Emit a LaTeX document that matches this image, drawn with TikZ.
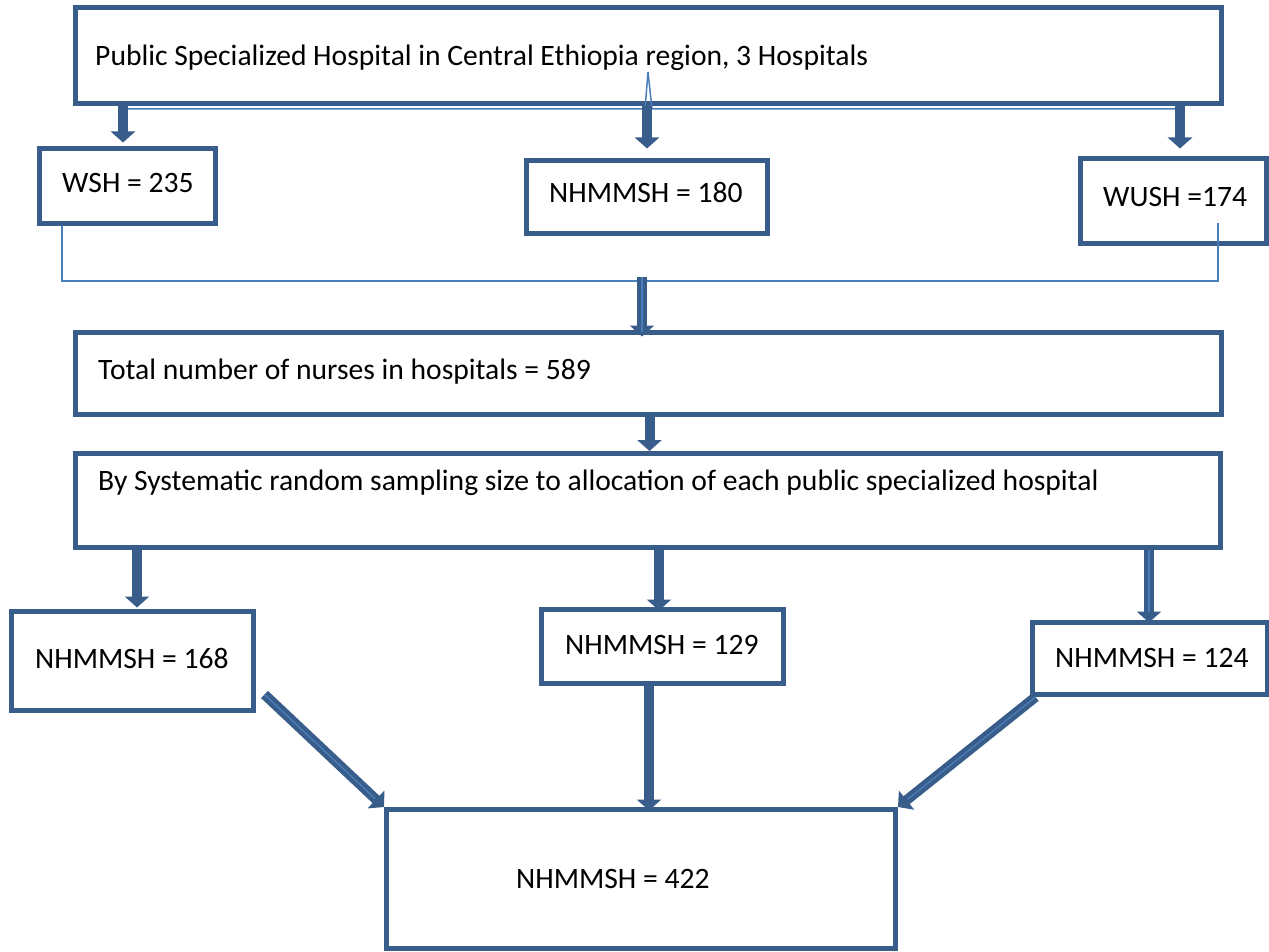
\documentclass[tikz,border=0pt]{standalone}
\usepackage{fontspec}
\setmainfont{Carlito}
\usetikzlibrary{arrows.meta}
\definecolor{dkb}{HTML}{385D8A}
\definecolor{ltb}{HTML}{4A7EBB}
\tikzset{
  box/.style={draw=dkb, line width=5pt, rectangle, inner sep=0pt, fill=none},
  txt/.style={anchor=base west, inner sep=0pt, font=\fontsize{29.6}{34}\selectfont},
  arr/.style={draw=dkb, line width=10pt, -{Triangle[length=11pt,width=24pt]}},
  thinln/.style={draw=ltb, line width=1.5pt},
  dbl/.style={postaction={draw=ltb, line width=1.3pt, -, shorten >=#1}}
}
\begin{document}
\begin{tikzpicture}[x=1pt,y=-1pt]
\useasboundingbox (0,0) rectangle (1269,952);
\fill[white] (0,0) rectangle (1269,952);
% boxes
\node[box, minimum width=1146pt, minimum height=96pt] (top) at (648.5,55.5) {};
\node[box, minimum width=176pt, minimum height=75pt] (wsh) at (127.5,186) {};
\node[box, minimum width=241pt, minimum height=73pt] (nh180) at (647,197) {};
\node[box, minimum width=186pt, minimum height=85pt] (wush) at (1173.5,201) {};
\node[box, minimum width=1146pt, minimum height=82pt] (total) at (648.5,373.5) {};
\node[box, minimum width=1145pt, minimum height=94pt] (sys) at (648,500.5) {};
\node[box, minimum width=242pt, minimum height=99pt] (n168) at (132.5,661) {};
\node[box, minimum width=242pt, minimum height=74pt] (n129) at (662.5,646.5) {};
\node[box, minimum width=234.5pt, minimum height=72pt] (n124) at (1149.75,658.5) {};
\node[box, minimum width=509pt, minimum height=139pt] (n422) at (641,879) {};
% texts
\node[txt] (ttop) at (95,66) {Public Specialized Hospital in Central Ethiopia region, 3 Hospitals};
\node[txt] (twsh) at (62,193) {WSH = 235};
\node[txt] (tnh180) at (549,203) {NHMMSH = 180};
\node[txt] (twush) at (1103,207) {WUSH =174};
\node[txt] (ttotal) at (98,379) {Total number of nurses in hospitals = 589};
\node[txt] (tsys) at (98,490) {By Systematic random sampling size to allocation of each public specialized hospital};
\node[txt] (t168) at (35,668) {NHMMSH = 168};
\node[txt] (t129) at (565,654) {NHMMSH = 129};
\node[txt] (t124) at (1055,667) {NHMMSH = 124};
\node[txt] (t422) at (516,888) {NHMMSH = 422};
% reference x positions
\coordinate (xa) at (123,0);
\coordinate (xb) at (647,0);
\coordinate (xc) at (1180,0);
\coordinate (xd) at (649.5,0);
\coordinate (xe) at (137,0);
\coordinate (xf) at (659,0);
\coordinate (xg) at (1149,0);
\coordinate (xh) at (649,0);
% thin connectors
\coordinate (tl) at (128,109);
\coordinate (tr) at (1175,109);
\draw[thinln] (tl) -- (645,109) -- (648,72) -- (652,109) -- (tr);
\coordinate (ca) at (62,281);
\coordinate (cb) at (1218,281);
\coordinate (cc) at (1218,223);
\draw[thinln] (wsh.south -| ca) -- (ca) -- (cb) -- (cc);
\coordinate (cm) at (642,277);
% arrows
\draw[arr, shorten >=3.5pt] (top.south -| xa) -- (wsh.north -| xa);
\draw[arr, shorten >=9.5pt] (top.south -| xb) -- (nh180.north -| xb);
\draw[arr, shorten >=7.5pt] (top.south -| xc) -- (wush.north -| xc);
\draw[arr, shorten >=-6.5pt, dbl=-2pt] (cm) -- (total.north -| cm);
\draw[arr] (total.south -| xd) -- (sys.north -| xd);
\draw[arr, shorten >=1.5pt] (sys.south -| xe) -- (n168.north -| xe);
\draw[arr, shorten >=-3.5pt] (sys.south -| xf) -- (n129.north -| xf);
\draw[arr, shorten >=-2.5pt, dbl=8pt] (sys.south -| xg) -- (n124.north -| xg);
\draw[arr, shorten >=-3.5pt] (n129.south -| xh) -- (n422.north -| xh);
\draw[arr, dbl=12pt] ([xshift=8.5pt,yshift=18.5pt]n168.south east) -- (n422.north west);
\draw[arr, dbl=12pt] ([xshift=5.5pt]n124.south west) -- (n422.north east);
\end{tikzpicture}
\end{document}
